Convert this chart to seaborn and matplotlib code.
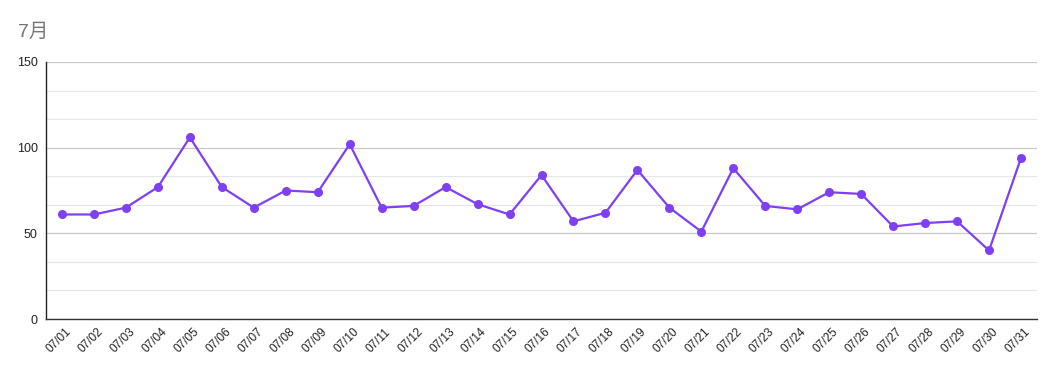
import numpy as np
import pandas as pd
import matplotlib
matplotlib.use("Agg")
import matplotlib.pyplot as plt
import matplotlib.transforms as mtransforms
import seaborn as sns
from matplotlib.ticker import MultipleLocator

dates = [f"07/{d:02d}" for d in range(1, 32)]
values = [61, 61, 65, 77, 106, 77, 65, 75, 74, 102,
          65, 66, 77, 67, 61, 84, 57, 62, 87, 65,
          51, 88, 66, 64, 74, 73, 54, 56, 57, 40, 94]
title = "7月"

sns.set_theme(style="white")
plt.rcParams['font.family'] = ['Liberation Sans', 'Noto Sans CJK JP', 'DejaVu Sans']

df = pd.DataFrame({"date": dates, "value": values})

fig = plt.figure(figsize=(10.55, 3.71), dpi=100)
ax = fig.add_axes([46/1055, 1-319/371, (1037-46)/1055, (319-62)/371])

color = "#7f3ff2"
sns.lineplot(data=df, x="date", y="value", ax=ax, color=color, linewidth=1.6,
             marker="o", markersize=6.5, markeredgewidth=0, sort=False)

ax.set_xlim(-0.5, len(dates) - 0.5)
ax.set_ylim(0, 150)
ax.yaxis.set_major_locator(MultipleLocator(50))
ax.yaxis.set_minor_locator(MultipleLocator(50/3))
ax.grid(which="major", axis="y", color="#c8c8c8", linewidth=0.9)
ax.grid(which="minor", axis="y", color="#e6e6e6", linewidth=0.8)
ax.set_axisbelow(True)

for s in ["top", "right"]:
    ax.spines[s].set_visible(False)
ax.spines["left"].set_color("#222222")
ax.spines["left"].set_linewidth(1.0)
ax.spines["bottom"].set_color("#333333")
ax.spines["bottom"].set_linewidth(1.0)

ax.set_xlabel("")
ax.set_ylabel("")
ax.tick_params(axis="y", which="major", labelsize=9, colors="#222222", length=0, pad=6)
ax.tick_params(axis="y", which="minor", length=0)
ax.tick_params(axis="x", labelsize=8.5, colors="#222222", length=0, pad=5)
offset = mtransforms.ScaledTranslation(3/100, 0, fig.dpi_scale_trans)
for lbl in ax.get_xticklabels():
    lbl.set_rotation(45)
    lbl.set_ha("right")
    lbl.set_rotation_mode("anchor")
    lbl.set_transform(lbl.get_transform() + offset)

fig.text(18/1055, 1-32/371, title, fontsize=14, color="#757575", va="center", ha="left")

fig.savefig("out.png", dpi=100)
